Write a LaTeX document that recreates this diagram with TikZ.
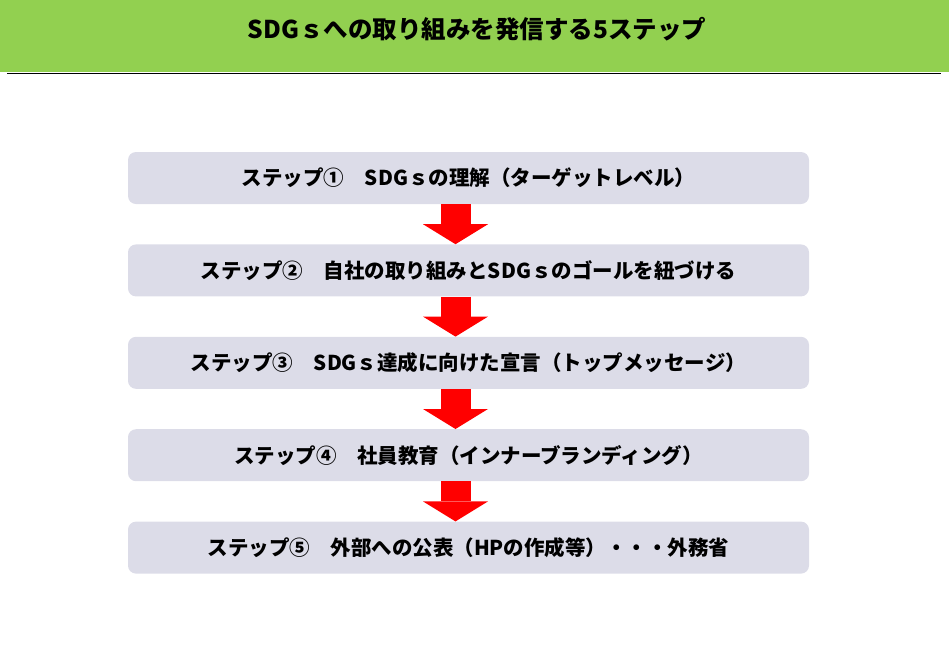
\documentclass[tikz,border=0pt]{standalone}
\usepackage{fontspec}
\setmainfont{Noto Sans CJK JP}
\usetikzlibrary{positioning,arrows.meta}
\definecolor{bandgreen}{HTML}{92D050}
\definecolor{stepgray}{HTML}{DCDCE8}
\begin{document}
\begin{tikzpicture}[x=1pt,y=-1pt,node distance=40pt,
                    >={Triangle[width=65pt,length=20pt,line width=0pt]}]
\tikzstyle{stepbox}=[fill=stepgray,draw=none,rounded corners=8pt,minimum width=681pt,
                     minimum height=52pt,inner sep=0pt,font=\fontsize{20.5pt}{22pt}\bfseries\selectfont]
\tikzstyle{downarrow}=[->,draw=red,line width=30pt,red]
\useasboundingbox (0,0) rectangle (949,657);

        \fill[bandgreen] (0,0) rectangle (949,72);
        \node[font=\fontsize{24.5pt}{26pt}\bfseries\selectfont] (title) at (477,29) {SDGｓへの取り組みを発信する5ステップ};
        \coordinate (ruleL) at (7,73.5);
        \coordinate (ruleR) at (941,73.5);
        \draw[line width=1.3pt] (ruleL) -- (ruleR);

        \node[stepbox] (s1) at (468.5,178) {ステップ①　SDGｓの理解（ターゲットレベル）};
        \node[stepbox] (s2) [below=of s1] {ステップ②　自社の取り組みとSDGｓのゴールを紐づける};
        \node[stepbox] (s3) [below=of s2] {ステップ③　SDGｓ達成に向けた宣言（トップメッセージ）};
        \node[stepbox] (s4) [below=of s3] {ステップ④　社員教育（インナーブランディング）};
        \node[stepbox] (s5) [below=of s4] {ステップ⑤　外部への公表（HPの作成等）・・・外務省};

        \path
        ([xshift=-13pt]s1.south) edge[downarrow] ([xshift=-13pt]s2.north)
        ([xshift=-13pt]s2.south) edge[downarrow] ([xshift=-13pt]s3.north)
        ([xshift=-13pt]s3.south) edge[downarrow] ([xshift=-13pt]s4.north)
        ([xshift=-13pt]s4.south) edge[downarrow] ([xshift=-13pt]s5.north)
        ; %end path

\end{tikzpicture}
\end{document}
